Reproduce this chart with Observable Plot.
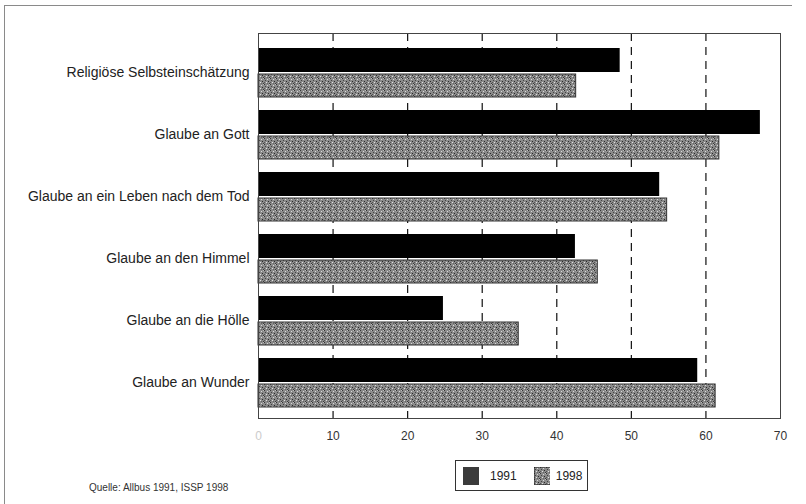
<!DOCTYPE html>
<html>
<head>
<meta charset="utf-8">
<script src="https://cdn.jsdelivr.net/npm/d3@7"></script>
<script src="https://cdn.jsdelivr.net/npm/@observablehq/plot@0.6"></script>
<style>
  html, body { margin: 0; padding: 0; background: #fff; }
  #page { position: relative; width: 806px; height: 504px; overflow: hidden; font-family: "Liberation Sans", Arial, sans-serif; }
  #border-top { position: absolute; left: 4px; top: 5px; width: 788px; height: 0; border-top: 1.5px solid #8a8a8a; }
  #border-left { position: absolute; left: 4px; top: 5px; width: 0; height: 499px; border-left: 1.5px solid #8a8a8a; }
  #chart { position: absolute; left: 0; top: 0; }
  #legend { position: absolute; left: 455px; top: 460px; width: 133px; height: 31px; border: 1.5px solid #333; box-sizing: border-box; display: flex; align-items: center; font-size: 12px; color: #222; }
  #legend .sw { width: 16px; height: 18px; display: inline-block; }
  #caption { position: absolute; left: 89px; top: 482px; font-size: 10px; color: #333; }
</style>
</head>
<body>
<div id="page">
  <div id="border-top"></div>
  <div id="border-left"></div>
  <div id="chart"></div>
  <div id="legend">
    <span class="sw" style="background:#3b3b3b;margin-left:7px"></span>
    <span style="margin-left:11px">1991</span>
    <svg class="sw" width="17" height="18" style="margin-left:17px"><rect width="17" height="18" fill="url(#stipple)" stroke="#222" stroke-width="1"/></svg>
    <span style="margin-left:6px">1998</span>
  </div>
  <div id="caption">Quelle: Allbus 1991, ISSP 1998</div>
</div>
<script>
const categories = [
  "Religiöse Selbsteinschätzung",
  "Glaube an Gott",
  "Glaube an ein Leben nach dem Tod",
  "Glaube an den Himmel",
  "Glaube an die Hölle",
  "Glaube an Wunder"
];
const values1991 = [48.5, 67.3, 53.8, 42.5, 24.8, 58.9];
const values1998 = [42.6, 61.8, 54.8, 45.5, 34.9, 61.3];
const xTicks = [10, 20, 30, 40, 50, 60, 70];
const zeroTick = [0];
const gridTicks = [10, 20, 30, 40, 50, 60];

const d91 = categories.map((c, i) => ({category: c, value: values1991[i]}));
const d98 = categories.map((c, i) => ({category: c, value: values1998[i]}));

const plot = Plot.plot({
  width: 806,
  height: 450,
  marginLeft: 258,
  marginRight: 26,
  marginTop: 40,
  marginBottom: 36,
  style: {fontFamily: "'Liberation Sans', Arial, sans-serif", background: "transparent"},
  x: {domain: [0, 70], axis: null, label: null},
  y: {domain: categories, padding: 0, axis: null, label: null},
  marks: [
    Plot.ruleX(gridTicks, {x: d => d, stroke: "#111", strokeWidth: 1.2, strokeDasharray: "8,6", insetTop: -7, insetBottom: -4}),
    Plot.barX(d91, {x: "value", y: "category", fill: "#000", insetTop: 7, insetBottom: 31}),
    Plot.barX(d98, {x: "value", y: "category", fill: "url(#stipple)", stroke: "#333", strokeWidth: 1, insetTop: 33, insetBottom: 6}),
    Plot.frame({stroke: "#444", strokeWidth: 1, insetTop: -7, insetBottom: -4}),
    Plot.axisY({tickSize: 0, tickPadding: 9, fontSize: 14, fill: "#222", label: null}),
    Plot.axisX(xTicks, {tickSize: 0, tickPadding: 17, fontSize: 12, fill: "#333", label: null}),
    Plot.axisX(zeroTick, {tickSize: 0, tickPadding: 17, fontSize: 12, fill: "#ccc", label: null})
  ]
});

const defs = `<defs>
<pattern id="stipple" width="6" height="6" patternUnits="userSpaceOnUse">
<rect width="6" height="6" fill="#8a8a8a"/>
<rect x="0" y="0" width="1" height="1" fill="#333"/>
<rect x="3" y="1" width="1" height="1" fill="#d8d8d8"/>
<rect x="1" y="2" width="1" height="1" fill="#444"/>
<rect x="4" y="3" width="1" height="1" fill="#2a2a2a"/>
<rect x="2" y="4" width="1" height="1" fill="#e0e0e0"/>
<rect x="5" y="5" width="1" height="1" fill="#3a3a3a"/>
<rect x="5" y="0" width="1" height="1" fill="#bdbdbd"/>
<rect x="0" y="4" width="1" height="1" fill="#555"/>
<rect x="3" y="5" width="1" height="1" fill="#666"/>
</pattern></defs>`;
plot.insertAdjacentHTML("afterbegin", defs);
document.getElementById("chart").appendChild(plot);
</script>
</body>
</html>
